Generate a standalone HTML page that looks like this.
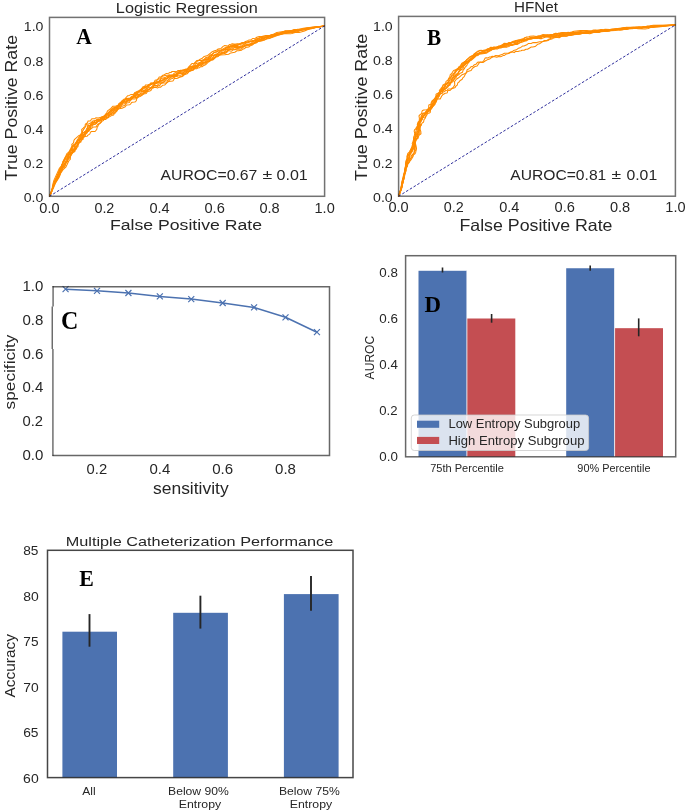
<!DOCTYPE html><html><head><meta charset="utf-8"><style>html,body{margin:0;padding:0;background:#fff;}svg{display:block;will-change:transform;} text{font-kerning:none;}</style></head><body>
<svg width="685" height="812" viewBox="0 0 685 812">
<rect width="685" height="812" fill="#fff"/>
<g>
<g clip-path="none">
<polyline points="49.5,196.3 51.6,191.2 54.3,181.4 57.5,176.3 58.9,171.4 60.0,169.0 61.6,167.1 62.3,164.7 64.4,161.5 64.8,160.0 67.9,156.9 68.8,154.6 70.5,153.3 71.8,149.4 73.2,146.7 74.3,145.6 75.3,143.9 76.3,143.3 77.3,141.6 78.8,140.3 80.3,139.7 81.0,137.9 82.5,137.3 83.3,136.7 84.7,134.6 85.1,132.9 87.9,131.5 89.0,129.7 89.2,127.8 90.3,125.2 91.8,124.6 93.6,122.8 94.8,121.0 97.3,119.4 101.3,119.0 102.4,117.1 104.8,115.3 106.5,113.4 107.6,110.8 110.9,108.4 113.0,106.2 115.5,106.2 118.0,105.3 121.3,104.9 122.1,104.3 123.3,102.4 126.0,103.0 127.2,100.3 127.7,100.0 130.7,100.2 132.1,97.7 137.4,95.8 140.9,94.9 142.6,94.8 143.9,93.1 145.3,92.5 146.4,91.5 147.4,91.2 148.8,89.6 150.2,89.0 151.1,87.7 151.6,87.5 153.6,88.0 154.7,86.9 156.9,86.8 158.5,85.8 159.9,85.3 160.8,83.8 162.1,83.1 163.2,82.0 164.1,81.7 168.8,76.3 170.8,75.8 172.2,76.4 173.3,76.4 175.1,75.6 176.8,75.6 177.2,75.4 178.1,73.6 180.0,73.2 182.9,73.4 183.9,72.0 187.0,70.3 188.4,67.3 191.6,63.8 192.5,63.4 194.2,63.3 196.7,60.6 200.0,60.3 201.8,60.5 205.8,58.6 207.8,58.1 208.6,57.5 210.2,54.9 212.1,54.2 215.0,51.9 217.5,51.5 218.8,50.8 220.9,50.4 222.2,49.7 224.2,49.3 226.3,47.7 227.8,47.3 231.4,45.3 232.9,45.1 234.2,44.4 237.7,43.7 240.0,44.1 242.5,43.7 249.6,44.5 252.2,44.3 254.4,43.1 256.0,41.6 257.5,41.4 259.1,39.9 261.1,39.3 262.8,38.3 266.3,37.8 268.7,36.9 272.3,36.8 285.2,30.7 287.4,31.0 290.8,30.4 292.4,30.5 297.8,29.3 306.3,29.0 324.6,25.9" fill="none" stroke="#ff8c00" stroke-width="1.05" stroke-linejoin="round"/>
<polyline points="49.5,196.3 51.5,191.7 53.6,184.5 56.0,179.5 56.9,176.6 58.2,173.9 58.8,171.9 59.8,170.7 60.3,169.2 62.3,166.9 64.5,163.6 66.5,159.6 68.0,158.1 68.3,156.0 70.9,152.3 70.9,150.1 71.9,148.3 72.2,146.8 71.8,144.3 73.5,142.9 74.0,140.2 74.6,139.4 79.1,135.4 81.3,134.7 82.0,133.3 84.3,132.1 88.5,131.4 88.9,131.2 89.6,129.7 93.7,126.9 96.1,126.9 97.4,124.8 101.0,122.2 101.9,119.8 103.3,119.1 104.3,118.0 105.1,114.9 108.6,114.4 109.7,112.6 111.7,111.1 114.0,110.1 115.6,108.9 118.8,108.2 121.0,107.2 122.6,105.9 124.7,105.5 126.6,103.0 129.3,102.6 130.0,101.0 133.8,96.6 134.1,94.2 134.6,93.1 136.4,93.2 137.4,93.0 138.4,91.7 140.2,90.8 142.9,88.4 145.1,87.2 146.7,86.9 148.4,84.9 150.0,84.7 150.8,83.0 151.3,82.9 154.2,83.9 156.0,82.0 158.1,81.7 159.8,80.6 161.9,80.5 163.3,79.9 164.9,78.6 167.0,78.2 167.7,77.5 168.5,75.6 169.4,75.0 173.3,75.2 175.1,74.3 176.1,74.2 177.2,72.9 179.1,73.5 180.7,72.2 183.0,72.3 185.1,73.4 185.6,73.2 186.5,71.5 189.1,71.1 193.4,68.4 195.0,68.0 196.8,66.2 198.0,64.2 201.2,61.6 202.2,60.2 203.7,60.0 204.1,59.6 205.4,57.8 208.9,56.8 211.4,55.2 214.2,55.1 215.5,54.5 219.8,54.4 223.0,52.9 225.9,52.1 227.4,50.6 228.8,49.9 229.8,48.5 231.7,47.8 233.3,46.3 236.2,45.3 237.8,45.4 239.1,44.5 240.6,44.2 242.3,43.1 243.8,42.9 245.7,42.1 249.3,42.0 251.8,41.6 253.7,40.9 258.2,40.3 259.6,39.8 262.3,38.2 264.3,38.0 265.7,37.3 267.9,37.7 270.1,36.4 273.6,36.0 275.5,35.2 278.9,34.4 281.4,34.3 284.3,33.4 290.4,33.8 291.9,33.6 296.7,32.1 305.7,28.4 309.2,27.7 324.6,25.9" fill="none" stroke="#ff8c00" stroke-width="1.05" stroke-linejoin="round"/>
<polyline points="49.5,196.3 51.4,192.2 53.1,187.0 55.2,181.9 58.9,175.3 59.3,173.3 60.9,171.9 62.9,168.4 64.5,167.1 65.7,163.6 67.5,161.5 67.7,156.3 69.0,154.1 69.3,152.6 70.1,151.3 71.3,148.0 73.2,145.6 77.2,143.2 77.7,140.7 80.1,138.3 80.4,136.0 81.9,134.6 82.6,131.1 84.9,127.5 85.3,124.2 87.5,122.8 88.0,120.9 90.1,120.9 90.6,120.7 91.5,119.1 92.6,118.8 94.6,118.8 95.8,117.8 98.2,117.9 104.9,116.2 105.2,115.9 105.7,114.1 107.3,113.7 108.3,112.5 109.8,111.9 110.8,110.0 113.0,107.9 114.0,107.5 116.5,107.6 117.7,106.7 119.3,106.4 119.9,105.5 120.4,103.5 124.0,101.7 125.8,101.8 126.3,101.6 127.2,100.2 129.6,99.3 131.1,97.0 133.1,96.5 134.4,93.8 135.6,92.9 141.5,90.1 146.6,86.8 148.8,86.7 150.6,84.8 152.1,84.3 153.7,83.0 155.1,80.3 157.1,79.8 158.0,79.3 159.2,77.0 161.3,76.7 162.9,75.2 164.3,74.8 166.5,73.4 168.6,73.3 169.9,72.4 171.0,72.5 172.1,71.5 174.9,71.4 177.8,71.9 179.3,71.5 180.4,70.2 182.9,70.9 184.5,70.9 185.7,69.9 187.5,69.1 189.3,66.9 193.1,65.7 194.6,63.2 196.0,62.5 197.1,61.3 198.5,60.7 199.6,59.5 201.9,58.6 204.2,56.4 207.7,55.5 211.7,52.1 214.5,50.8 216.5,50.3 218.1,49.0 221.1,48.4 223.1,46.4 224.4,45.6 227.9,46.1 229.4,44.6 231.0,44.3 232.4,43.7 235.2,44.2 239.4,43.9 241.7,42.8 243.2,42.5 245.4,42.8 248.7,41.5 254.0,40.2 257.2,38.5 259.6,37.8 260.8,36.8 262.8,36.3 269.5,36.0 273.3,34.7 280.6,33.0 283.1,32.9 285.0,32.2 287.7,32.4 290.1,31.7 293.6,31.7 297.0,30.6 299.0,30.4 304.2,28.4 309.1,27.5 324.6,25.9" fill="none" stroke="#ff8c00" stroke-width="1.05" stroke-linejoin="round"/>
<polyline points="49.5,196.3 54.1,184.7 58.5,177.3 59.0,175.4 60.0,173.6 60.3,171.6 61.3,170.4 62.4,168.1 63.0,164.0 62.9,161.5 64.0,159.7 64.8,157.7 67.7,154.5 71.5,153.2 72.7,152.1 74.4,151.3 74.6,149.7 76.4,149.0 76.8,147.5 78.0,146.5 78.2,143.8 79.0,142.1 78.8,140.3 80.0,138.8 79.7,135.9 81.8,132.4 81.7,129.4 83.0,128.5 83.9,127.2 85.5,126.7 86.3,124.6 86.8,124.3 88.6,124.1 90.5,123.0 93.2,122.4 95.8,122.4 96.8,121.3 98.7,120.5 100.4,120.4 105.7,118.1 108.0,117.7 108.6,116.1 109.7,115.1 110.5,112.9 111.6,111.8 112.3,110.3 115.6,107.1 118.0,105.4 119.1,103.4 120.8,102.3 122.1,100.7 124.3,100.3 126.5,98.3 129.1,98.6 130.9,97.7 133.4,97.9 135.4,97.4 137.2,97.4 140.6,96.3 141.4,95.7 142.1,94.0 143.9,93.2 144.7,91.5 145.1,89.2 146.4,88.5 147.3,87.0 148.5,86.1 149.3,84.5 152.0,84.1 154.2,83.0 155.9,83.0 158.7,81.9 163.3,82.3 164.9,80.9 167.0,80.9 171.7,76.6 172.2,76.5 174.0,76.9 175.0,76.7 178.9,71.8 182.9,71.0 184.2,70.3 185.3,70.1 187.5,70.1 189.7,68.9 191.4,68.9 192.8,67.2 194.5,67.1 195.7,66.2 197.1,65.6 198.5,64.1 202.2,63.6 204.0,62.7 206.5,62.2 209.8,60.0 211.8,59.6 213.5,58.5 214.9,56.8 217.8,54.8 220.1,55.0 221.4,53.0 223.8,52.3 224.8,50.8 226.8,49.0 228.7,48.3 230.3,46.7 232.9,45.2 235.1,45.4 239.1,44.5 241.3,43.3 244.2,42.5 245.5,41.4 246.9,41.1 248.7,40.1 250.8,39.9 252.9,38.4 255.5,38.2 256.8,37.3 259.2,36.5 261.9,36.7 265.7,35.5 269.4,35.6 274.3,34.6 276.8,34.5 278.6,33.4 281.6,32.9 283.4,31.9 285.9,31.6 287.9,30.9 292.9,30.5 294.8,29.7 297.9,30.0 299.8,29.5 306.9,29.1 324.6,25.9" fill="none" stroke="#ff8c00" stroke-width="1.05" stroke-linejoin="round"/>
<polyline points="49.5,196.3 53.3,186.5 59.2,177.1 60.2,174.8 60.7,172.4 61.8,169.5 62.7,167.7 63.7,166.6 64.7,163.7 66.9,161.9 67.4,159.5 68.6,157.9 70.8,155.8 71.3,154.3 72.3,153.1 74.8,151.5 75.7,149.1 75.8,147.5 76.8,145.8 77.9,144.7 78.1,143.8 79.3,141.7 79.9,138.8 81.2,137.4 82.1,135.5 86.2,133.3 87.0,131.9 87.9,131.4 88.6,130.1 90.4,129.0 90.8,127.4 92.1,126.6 92.8,125.1 94.9,123.8 96.5,123.5 96.9,123.2 97.4,121.3 97.8,121.0 100.9,121.1 102.7,119.2 105.5,119.5 106.0,119.3 106.8,117.9 108.4,117.4 108.7,117.0 109.1,115.1 112.1,113.2 112.8,111.8 113.7,111.2 114.9,109.6 116.1,108.8 117.8,106.8 118.7,104.6 120.8,104.2 121.7,101.9 123.7,101.3 125.2,99.8 128.7,98.8 130.6,99.0 131.6,98.8 132.9,97.1 134.7,96.2 135.9,93.3 138.1,93.1 139.4,92.3 141.6,89.1 142.6,86.9 144.7,86.5 145.5,84.9 148.9,84.8 150.9,83.2 155.7,83.7 157.0,81.8 158.8,81.9 160.1,80.1 162.3,80.2 164.3,78.3 166.5,78.3 167.9,77.9 169.0,76.7 171.1,75.2 173.0,74.7 174.1,73.3 175.5,72.8 177.8,70.6 181.5,70.4 185.4,69.2 188.9,69.5 190.3,67.8 193.9,67.2 195.2,65.4 198.3,64.7 200.4,63.4 201.7,61.5 205.8,59.6 207.3,59.3 209.1,57.2 211.1,56.9 212.3,55.8 214.7,55.1 215.8,54.0 217.9,53.7 219.5,51.1 222.7,50.9 224.7,49.0 226.9,47.8 231.8,46.6 235.8,47.4 240.6,47.4 246.8,45.7 248.4,45.7 255.2,42.5 256.8,42.4 258.6,41.4 261.6,41.1 265.3,39.6 266.6,38.5 270.0,38.0 276.9,34.7 283.5,32.2 289.0,31.6 291.6,31.8 295.0,31.1 299.5,30.8 302.9,29.5 308.3,28.8 314.7,27.2 324.6,25.9" fill="none" stroke="#ff8c00" stroke-width="1.05" stroke-linejoin="round"/>
<polyline points="49.5,196.3 52.2,189.8 55.3,179.6 57.7,174.2 60.5,171.1 61.8,168.4 64.1,166.8 65.1,165.6 66.0,162.6 67.0,161.4 68.0,159.2 68.6,156.7 70.2,155.4 71.1,153.6 72.6,152.1 72.4,150.3 72.7,149.9 74.1,148.9 74.3,147.3 75.3,145.0 76.4,143.9 76.8,140.7 78.0,139.2 78.6,137.7 82.1,134.8 82.7,133.2 85.0,132.7 85.8,132.2 88.1,129.6 88.8,128.0 90.4,127.6 90.9,125.9 91.5,125.1 92.4,124.7 94.3,124.6 95.3,124.3 97.2,121.9 99.6,120.9 100.6,118.9 103.0,118.0 104.1,116.0 105.7,115.6 106.8,113.9 108.9,113.2 109.8,111.2 111.1,109.6 113.3,109.1 114.8,107.8 116.6,107.8 120.5,106.4 122.5,104.0 124.8,103.8 126.3,101.5 128.4,101.2 134.1,96.1 136.0,95.4 137.6,93.3 138.6,91.0 143.1,87.7 144.1,86.5 146.0,86.8 147.8,85.8 148.8,84.7 150.4,84.3 153.0,82.8 155.4,82.0 156.2,81.4 157.9,79.0 160.0,78.7 161.0,77.2 162.3,76.3 165.2,75.6 168.9,75.1 171.4,75.8 173.3,75.3 175.0,75.4 175.8,74.7 177.8,74.3 178.8,72.9 179.3,72.7 181.7,73.2 182.8,73.2 184.0,72.1 185.5,71.7 187.2,70.7 189.3,70.4 190.7,68.6 192.6,67.9 193.8,67.0 196.5,66.6 198.3,64.8 200.6,64.9 202.8,63.8 206.9,60.8 208.6,58.6 210.4,57.8 211.5,55.4 213.7,52.8 216.7,52.1 218.1,50.3 219.0,49.9 222.9,50.0 226.9,49.2 228.7,49.7 232.1,48.9 233.9,49.3 235.9,49.0 240.7,49.3 241.6,48.8 242.7,47.5 245.3,45.8 246.7,45.4 249.4,44.0 250.9,43.7 252.9,41.6 254.3,41.2 256.0,39.9 261.1,37.6 262.6,37.6 264.1,37.1 267.8,37.3 270.7,36.6 272.9,35.4 274.5,35.3 275.8,34.6 281.6,32.9 285.3,31.1 290.9,30.7 294.3,29.6 299.3,29.2 303.2,28.3 324.6,25.9" fill="none" stroke="#ff8c00" stroke-width="1.05" stroke-linejoin="round"/>
<polyline points="49.5,196.3 51.5,191.7 52.8,186.8 54.4,183.2 56.7,179.3 57.8,176.5 59.3,172.2 60.0,169.1 61.7,165.9 63.0,162.0 65.6,158.0 65.7,156.4 66.7,153.9 69.5,151.5 69.8,150.0 70.8,148.9 71.3,147.4 73.1,145.0 74.7,144.1 75.7,142.4 81.4,138.2 83.1,135.1 84.9,134.0 86.6,128.6 88.2,127.4 89.1,126.1 90.6,124.8 94.2,122.9 96.9,122.3 98.8,119.8 102.1,118.4 103.3,116.6 105.9,115.9 106.6,114.4 108.2,114.0 108.6,113.6 109.0,111.7 113.2,109.8 115.1,108.2 116.7,107.8 118.0,106.2 118.9,104.0 119.8,103.6 122.2,101.8 123.2,99.6 124.7,99.1 127.2,99.3 128.4,98.3 130.5,98.0 131.8,96.2 132.9,96.1 134.2,95.3 136.0,95.5 137.0,94.2 139.4,94.4 140.7,93.5 143.1,92.7 145.2,92.4 146.0,90.7 147.5,90.5 148.6,89.3 150.4,88.4 154.6,83.7 156.7,83.4 159.0,82.4 160.2,81.4 162.2,81.0 165.5,78.8 167.1,78.7 169.2,77.2 172.3,76.7 174.0,76.9 174.8,76.2 177.2,72.9 180.2,72.3 181.5,70.3 184.1,70.0 185.9,69.1 187.6,69.2 189.1,67.7 191.4,66.6 193.6,66.5 194.4,65.9 195.6,63.8 202.9,61.7 203.9,60.3 204.7,59.8 205.7,59.6 209.3,60.0 210.5,59.1 212.0,58.9 214.3,55.5 216.2,54.9 217.7,53.3 220.9,51.7 222.1,49.4 226.5,46.9 229.1,46.5 230.8,46.7 232.7,46.2 237.6,46.5 241.7,46.1 246.4,42.7 248.4,42.5 250.2,41.6 255.7,40.5 258.4,39.1 260.9,38.9 263.3,38.2 264.7,37.5 266.2,37.3 267.5,36.4 269.5,36.0 271.7,34.7 274.1,34.0 276.8,32.4 283.3,31.4 285.4,31.5 287.4,31.2 291.7,32.6 299.2,32.4 304.6,31.1 308.9,29.1 313.7,27.7 324.6,25.9" fill="none" stroke="#ff8c00" stroke-width="1.05" stroke-linejoin="round"/>
<polyline points="49.5,196.3 50.8,193.6 51.9,190.3 52.6,185.2 54.0,180.1 59.2,168.6 61.4,165.8 61.7,164.3 63.0,163.0 63.5,160.7 64.3,159.2 66.0,157.7 69.4,151.5 74.9,148.2 75.5,146.8 77.5,145.7 77.8,144.8 78.9,143.7 79.5,142.5 81.0,142.0 81.0,140.3 82.5,138.6 82.9,136.2 84.3,134.7 84.3,131.9 86.4,130.5 87.4,129.3 87.4,126.3 87.9,125.3 90.0,125.4 91.0,125.0 91.7,124.2 92.0,122.0 92.7,121.1 99.7,119.8 100.9,118.9 102.4,118.4 103.5,117.5 105.3,117.3 106.8,116.0 109.5,115.4 110.7,114.4 111.5,113.1 113.1,112.8 113.9,111.3 115.4,110.8 117.2,109.1 118.1,106.0 119.7,105.6 121.0,103.9 123.7,101.6 127.8,100.6 129.8,99.0 134.4,98.9 136.9,98.4 138.1,97.4 139.0,95.0 142.5,95.0 143.6,93.9 146.2,93.5 147.4,91.6 149.0,91.3 150.9,90.6 154.7,84.0 156.4,82.8 159.1,81.4 160.1,79.8 161.6,78.1 163.3,78.1 165.7,77.3 167.4,76.3 169.7,76.5 170.6,76.1 172.1,76.0 173.4,75.2 176.0,76.1 176.5,76.0 177.7,75.0 180.5,75.2 182.4,74.5 184.2,74.8 185.7,73.2 186.9,72.3 191.0,70.3 193.1,70.1 194.5,68.5 197.9,67.3 198.8,65.8 199.2,65.6 201.1,66.0 203.0,64.2 206.0,63.4 206.8,61.7 207.3,61.5 209.0,61.7 212.3,59.4 213.9,59.1 214.8,57.5 218.2,56.4 220.0,54.5 225.5,53.3 227.2,52.0 229.3,49.4 232.5,49.1 234.4,47.2 236.7,47.6 239.2,47.0 240.5,46.1 242.7,46.5 245.9,45.0 248.5,44.9 250.5,44.5 251.8,43.6 254.2,42.8 255.8,41.2 258.2,40.7 259.5,39.8 264.3,39.9 266.6,38.9 269.0,38.4 274.8,36.6 278.5,35.1 282.8,33.8 284.8,33.6 287.7,32.6 289.7,32.6 292.1,31.8 298.0,30.8 301.4,29.8 304.4,29.7 311.3,28.3 314.2,27.4 324.6,25.9" fill="none" stroke="#ff8c00" stroke-width="1.05" stroke-linejoin="round"/>
<polyline points="49.5,196.3 54.0,186.8 56.0,181.2 57.1,179.5 58.0,177.1 63.4,169.3 65.8,167.2 68.9,160.7 70.3,159.3 70.5,156.1 72.6,152.7 72.9,151.1 74.3,149.6 75.0,147.7 74.8,144.8 77.0,142.6 77.9,140.3 80.7,139.5 84.1,136.6 87.1,136.2 88.0,135.1 89.7,134.1 90.6,132.1 91.3,131.5 94.4,131.5 95.4,131.2 96.8,129.3 97.1,127.5 97.9,126.3 98.5,124.5 100.5,123.0 101.9,121.3 103.3,120.6 104.8,118.3 106.1,117.6 108.0,117.6 111.6,115.6 113.6,115.0 114.3,113.6 115.6,112.9 116.1,111.0 118.4,109.0 119.8,104.9 121.0,103.9 121.8,102.4 124.5,101.0 125.6,98.0 127.8,95.7 129.4,95.4 131.1,94.4 133.6,94.5 134.8,92.6 137.5,91.2 139.7,91.0 142.0,90.0 145.4,91.1 147.5,89.6 149.6,89.3 150.5,87.8 153.3,86.6 154.3,85.4 154.8,85.2 157.2,85.6 158.6,83.9 159.7,83.7 161.0,83.0 162.5,82.7 164.3,83.1 166.4,82.9 168.5,81.5 172.7,81.0 173.5,80.3 174.3,78.5 176.5,78.5 178.4,77.9 179.7,77.0 182.7,76.4 184.2,74.7 187.1,73.8 189.3,71.5 193.1,70.0 194.6,68.7 196.9,68.7 197.7,68.0 199.3,67.8 200.4,66.8 202.0,66.7 203.3,65.8 205.5,64.8 207.8,62.7 208.9,61.3 211.0,60.0 212.7,60.1 213.8,58.8 215.1,58.1 216.2,55.7 221.9,52.4 222.9,52.3 224.7,52.6 226.3,51.2 228.2,50.6 231.2,51.2 231.6,51.1 233.3,49.8 234.9,49.7 236.6,48.8 240.1,48.1 241.4,47.1 243.2,46.4 244.5,45.4 246.0,45.2 247.8,44.2 249.4,44.4 250.7,43.6 253.3,43.2 255.1,42.4 256.6,42.3 257.9,41.5 262.7,39.9 264.8,38.3 268.6,36.8 271.7,36.7 274.0,35.8 280.0,34.8 281.8,33.9 288.1,32.4 292.4,30.8 299.4,30.0 304.0,30.1 311.4,28.7 313.8,27.9 324.6,25.9" fill="none" stroke="#ff8c00" stroke-width="1.05" stroke-linejoin="round"/>
<polyline points="49.5,196.3 51.9,191.3 54.6,183.3 55.4,181.4 56.3,180.2 58.2,174.5 59.4,171.6 60.4,170.5 61.0,168.5 63.7,165.4 64.6,163.7 66.1,162.1 67.0,160.4 69.0,158.7 69.7,157.4 71.0,153.0 72.7,151.6 74.6,149.1 75.9,148.2 76.2,146.7 77.1,145.5 77.9,143.1 80.4,141.5 81.5,140.1 82.9,139.6 83.3,138.0 85.1,136.2 85.8,134.1 87.2,132.9 88.0,129.3 89.8,127.5 90.6,125.4 91.2,122.7 91.9,121.9 94.4,121.7 95.9,120.3 98.2,119.3 100.4,119.0 101.1,117.5 101.9,116.8 103.6,116.8 107.4,116.0 111.2,114.4 112.9,114.1 114.6,112.3 116.8,111.2 117.8,109.1 122.0,108.2 124.8,107.1 125.5,106.4 126.4,105.0 129.7,104.7 130.5,104.1 131.4,102.7 132.2,102.2 134.5,102.1 135.5,101.8 136.4,100.5 136.9,97.3 139.3,94.4 140.5,93.6 141.6,91.3 143.9,91.4 147.7,88.0 148.7,87.6 150.5,87.9 155.3,87.2 157.8,87.9 159.1,87.1 160.7,87.1 162.6,85.3 164.6,85.1 170.7,78.9 172.2,78.6 176.1,76.2 178.7,77.2 181.7,76.5 182.7,75.2 183.6,73.4 186.1,72.9 187.3,72.0 188.9,71.7 190.1,70.7 193.0,69.8 193.7,69.0 194.4,67.1 197.1,67.0 198.2,65.7 200.0,64.9 202.2,62.5 204.4,62.4 206.1,60.3 208.5,59.4 209.7,58.5 212.7,57.8 214.5,58.0 216.0,56.4 217.5,56.2 219.7,54.9 224.6,54.8 228.6,54.3 230.8,52.9 234.8,52.3 236.9,50.8 238.5,50.8 241.4,50.3 242.6,49.2 244.1,48.8 245.7,47.5 248.7,47.0 250.4,45.7 252.3,45.0 254.4,43.4 256.3,42.9 258.2,40.7 259.1,40.1 261.1,39.8 262.9,39.0 265.9,36.8 268.0,36.9 269.7,35.4 271.1,34.9 278.0,33.3 280.0,33.2 282.4,32.4 288.1,32.4 292.4,30.9 294.5,31.2 299.0,30.4 300.4,29.9 304.4,29.6 306.3,28.9 324.6,25.9" fill="none" stroke="#ff8c00" stroke-width="1.05" stroke-linejoin="round"/>
</g>
<line x1="49.50" y1="196.30" x2="324.60" y2="25.92" stroke="#2e2e9c" stroke-width="1.0" stroke-dasharray="2.6 1.8"/>
<rect x="49.50" y="17.40" width="275.10" height="178.90" fill="none" stroke="#262626" stroke-width="1.5" stroke-opacity="0.65"/>
<text x="23.79" y="201.80" font-size="13.50" textLength="19.62" lengthAdjust="spacingAndGlyphs" fill="#262626" font-family="Liberation Sans" font-weight="normal">0.0</text>
<text x="39.38" y="212.60" font-size="13.93" textLength="20.24" lengthAdjust="spacingAndGlyphs" fill="#262626" font-family="Liberation Sans" font-weight="normal">0.0</text>
<text x="23.80" y="167.72" font-size="13.50" textLength="19.32" lengthAdjust="spacingAndGlyphs" fill="#262626" font-family="Liberation Sans" font-weight="normal">0.2</text>
<text x="94.41" y="212.60" font-size="13.93" textLength="19.93" lengthAdjust="spacingAndGlyphs" fill="#262626" font-family="Liberation Sans" font-weight="normal">0.2</text>
<text x="23.79" y="133.65" font-size="13.50" textLength="19.60" lengthAdjust="spacingAndGlyphs" fill="#262626" font-family="Liberation Sans" font-weight="normal">0.4</text>
<text x="149.42" y="212.60" font-size="13.93" textLength="20.22" lengthAdjust="spacingAndGlyphs" fill="#262626" font-family="Liberation Sans" font-weight="normal">0.4</text>
<text x="23.79" y="99.57" font-size="13.50" textLength="19.73" lengthAdjust="spacingAndGlyphs" fill="#262626" font-family="Liberation Sans" font-weight="normal">0.6</text>
<text x="204.44" y="212.60" font-size="13.93" textLength="20.36" lengthAdjust="spacingAndGlyphs" fill="#262626" font-family="Liberation Sans" font-weight="normal">0.6</text>
<text x="23.79" y="65.50" font-size="13.50" textLength="19.65" lengthAdjust="spacingAndGlyphs" fill="#262626" font-family="Liberation Sans" font-weight="normal">0.8</text>
<text x="259.46" y="212.60" font-size="13.93" textLength="20.27" lengthAdjust="spacingAndGlyphs" fill="#262626" font-family="Liberation Sans" font-weight="normal">0.8</text>
<text x="23.83" y="31.42" font-size="13.50" textLength="19.58" lengthAdjust="spacingAndGlyphs" fill="#262626" font-family="Liberation Sans" font-weight="normal">1.0</text>
<text x="314.52" y="212.60" font-size="13.93" textLength="20.20" lengthAdjust="spacingAndGlyphs" fill="#262626" font-family="Liberation Sans" font-weight="normal">1.0</text>
<text x="115.87" y="12.60" font-size="14.34" textLength="141.90" lengthAdjust="spacingAndGlyphs" fill="#262626" font-family="Liberation Sans" font-weight="normal">Logistic Regression</text>
<text x="76.28" y="44.40" font-size="22.88" textLength="15.57" lengthAdjust="spacingAndGlyphs" fill="#000" font-family="Liberation Serif" font-weight="bold">A</text>
<text x="160.47" y="179.60" font-size="14.33" textLength="96.93" lengthAdjust="spacingAndGlyphs" fill="#262626" font-family="Liberation Sans" font-weight="normal">AUROC=0.67</text>
<text x="262.53" y="179.40" font-size="13.45" textLength="9.71" lengthAdjust="spacingAndGlyphs" fill="#262626" font-family="Liberation Sans" font-weight="normal">±</text>
<text x="276.57" y="179.60" font-size="14.33" textLength="31.22" lengthAdjust="spacingAndGlyphs" fill="#262626" font-family="Liberation Sans" font-weight="normal">0.01</text>
<text transform="translate(16.60,180.79) rotate(-90)" x="0" y="0" font-size="15.59" textLength="145.78" lengthAdjust="spacingAndGlyphs" fill="#262626" font-family="Liberation Sans" font-weight="normal">True Positive Rate</text>
<text x="109.95" y="230.20" font-size="15.17" textLength="152.02" lengthAdjust="spacingAndGlyphs" fill="#262626" font-family="Liberation Sans" font-weight="normal">False Positive Rate</text>
<g clip-path="none">
<polyline points="398.6,196.2 400.9,189.6 402.6,178.7 404.0,173.4 405.0,171.5 405.1,170.0 406.1,166.1 407.8,163.5 408.0,160.9 409.5,158.3 409.9,156.3 409.7,154.1 410.8,152.9 411.3,150.4 412.6,147.8 413.9,146.0 413.9,144.5 414.7,141.1 414.0,137.6 415.0,136.3 415.7,134.5 415.8,131.4 416.5,129.7 416.6,128.2 417.4,126.3 417.4,124.2 418.8,122.9 419.7,121.1 421.7,120.2 422.2,118.8 424.4,115.4 424.9,113.9 426.6,112.7 429.1,111.4 429.9,110.7 431.2,106.7 433.4,105.1 433.6,102.9 434.7,100.7 436.2,99.3 435.9,96.7 439.0,94.6 440.7,91.5 442.8,91.3 443.8,89.7 445.7,88.7 448.0,86.9 448.7,85.6 450.2,84.9 450.5,82.4 451.5,81.3 452.0,79.7 453.9,76.6 455.5,76.0 456.0,74.5 457.7,73.3 458.6,72.1 460.5,67.8 462.3,67.4 462.8,64.5 463.5,63.0 465.5,61.3 466.8,59.5 468.6,58.6 470.0,56.8 473.8,55.3 476.4,53.7 478.4,53.3 479.7,52.4 482.7,53.0 484.6,52.2 486.7,52.0 490.6,49.9 494.5,48.8 496.1,47.3 497.6,47.0 499.0,46.3 501.7,46.8 503.2,44.6 504.9,45.0 505.9,45.0 508.1,43.9 509.7,43.9 511.5,43.0 516.5,42.2 519.8,41.1 521.2,40.3 523.7,40.0 528.0,38.7 531.1,38.8 533.0,38.0 534.6,38.2 537.6,37.9 539.7,38.6 541.7,38.6 546.4,36.8 550.5,37.4 559.2,34.6 568.2,34.3 570.2,33.8 573.7,33.7 578.2,32.7 581.7,32.9 588.1,31.3 590.6,31.4 595.5,30.2 599.1,30.4 602.0,30.2 604.1,30.6 607.6,30.8 610.1,30.2 612.6,30.4 617.0,29.2 624.9,27.8 633.4,27.0 636.4,26.9 638.0,27.3 639.9,27.2 643.0,27.6 644.5,27.3 646.5,27.4 656.4,26.1 659.5,26.4 662.4,25.8 675.4,25.0" fill="none" stroke="#ff8c00" stroke-width="1.05" stroke-linejoin="round"/>
<polyline points="398.6,196.2 401.2,189.1 402.9,182.9 404.1,177.0 404.1,175.4 404.7,173.5 405.0,170.0 405.5,168.6 405.4,166.4 405.9,164.4 405.9,161.3 407.1,158.1 407.0,156.5 407.8,153.3 409.5,151.8 410.0,150.5 411.5,149.0 413.4,143.8 413.1,142.2 413.4,140.1 415.7,137.7 416.8,136.0 417.1,133.9 418.5,132.9 419.1,132.0 420.0,126.5 421.3,125.3 421.8,123.4 423.6,122.0 424.0,119.6 425.3,118.2 425.8,116.5 426.9,115.0 427.3,114.0 427.6,113.6 429.4,113.1 430.3,112.3 430.5,109.8 432.5,107.4 433.1,104.9 434.4,102.8 434.6,101.2 436.3,99.9 437.1,96.9 438.4,95.4 440.0,94.7 440.3,92.5 441.9,91.2 442.5,89.2 443.4,88.7 446.4,88.1 447.1,86.1 448.7,85.6 449.5,84.9 449.8,82.5 452.8,81.8 453.2,81.4 454.1,78.8 455.9,77.7 456.9,75.8 458.7,74.8 459.7,73.6 462.5,72.3 463.1,70.2 464.4,68.7 465.0,67.3 466.9,65.4 467.4,63.9 468.4,62.9 469.2,60.4 471.0,59.5 472.2,57.6 473.3,56.7 479.6,53.3 481.8,53.4 484.9,51.7 486.1,50.7 489.5,49.8 492.2,48.3 493.4,47.0 495.6,47.4 496.6,47.1 498.8,45.9 500.4,45.7 502.2,44.8 504.0,43.3 507.1,43.6 509.3,42.5 513.3,42.2 515.3,41.7 517.4,41.8 519.7,40.7 522.8,40.6 527.1,39.1 531.6,38.9 533.6,38.3 537.1,38.4 541.0,37.5 542.4,36.8 545.3,36.0 547.3,36.1 550.7,34.9 552.7,34.7 554.2,34.0 556.2,34.1 558.6,33.3 560.7,33.7 562.6,33.4 565.2,33.8 569.7,33.6 572.2,32.9 575.2,33.5 577.2,33.0 579.7,33.1 581.7,32.6 583.7,32.8 587.7,32.3 589.2,32.5 592.2,32.0 595.6,30.9 597.6,31.1 599.6,30.6 608.6,30.4 613.5,29.1 616.5,28.7 618.5,29.0 624.4,27.8 635.0,28.4 636.5,28.0 639.5,28.0 641.5,28.4 643.5,27.7 645.5,27.8 649.0,27.0 652.4,26.6 654.9,25.8 660.4,25.8 662.9,25.4 669.4,25.4 675.4,25.0" fill="none" stroke="#ff8c00" stroke-width="1.05" stroke-linejoin="round"/>
<polyline points="398.6,196.2 401.3,189.7 402.1,186.8 402.7,182.3 403.6,179.9 403.8,175.4 404.7,172.5 404.6,169.9 407.5,166.1 407.7,163.5 409.0,161.8 409.8,158.9 412.3,157.1 412.3,154.6 414.2,153.3 414.4,151.6 415.9,149.8 415.3,141.2 415.7,140.3 416.9,139.2 417.7,136.3 418.4,130.7 417.9,128.0 418.8,125.7 418.2,123.3 420.8,118.7 420.9,117.0 422.1,115.8 422.5,114.0 423.2,113.2 425.2,112.8 426.8,110.9 429.0,110.1 429.7,108.8 432.7,106.4 432.9,104.2 435.1,102.0 435.9,98.5 438.9,94.0 439.1,92.3 440.7,91.0 441.7,88.6 444.8,86.7 446.1,84.4 451.6,82.8 452.3,80.6 454.1,79.5 455.9,75.6 458.1,73.6 461.0,68.2 463.1,65.5 466.6,62.7 468.8,59.9 471.2,59.0 473.2,57.5 474.7,57.1 476.0,55.3 478.4,54.4 480.3,52.5 482.6,51.4 484.6,51.0 487.0,49.1 489.0,48.4 490.8,47.3 493.5,47.5 495.0,47.1 496.7,47.5 499.3,47.6 500.3,47.4 501.6,46.6 503.7,46.7 506.7,46.3 509.9,44.8 513.5,44.3 514.8,43.5 517.4,43.5 519.7,42.7 522.0,41.3 526.0,41.0 529.6,38.9 531.6,38.6 536.3,36.6 538.7,35.8 540.7,35.5 543.1,34.5 547.2,34.9 549.8,35.9 551.8,35.7 555.4,35.9 563.3,34.9 565.3,35.0 567.2,34.1 571.7,33.8 574.6,32.5 576.6,32.0 579.1,31.9 583.5,30.8 584.5,30.8 586.6,31.5 589.6,31.5 597.6,30.8 604.1,30.6 607.1,30.9 610.6,30.6 617.5,29.4 620.1,29.9 628.0,28.3 630.0,28.6 634.5,27.4 638.9,26.8 641.4,26.9 643.4,26.4 644.9,26.7 648.4,26.3 660.4,26.2 675.4,25.0" fill="none" stroke="#ff8c00" stroke-width="1.05" stroke-linejoin="round"/>
<polyline points="398.6,196.2 400.2,191.5 401.5,186.1 404.3,177.5 404.9,174.6 405.2,173.1 405.0,171.0 405.5,167.0 405.5,163.2 407.2,158.7 407.3,156.0 410.4,152.2 412.0,150.7 412.6,148.8 414.5,147.3 415.1,146.4 413.9,143.4 414.5,139.9 415.2,138.1 415.1,136.3 416.7,133.8 416.8,132.3 418.4,130.7 418.2,128.6 418.6,126.7 419.7,124.8 419.8,122.7 420.4,121.3 420.6,119.8 422.3,117.7 423.3,115.9 427.5,111.5 428.5,109.8 431.8,107.6 431.0,105.0 431.6,104.1 432.4,101.7 435.4,98.2 436.0,96.2 436.0,94.4 436.3,94.0 439.5,92.5 439.4,90.0 441.3,89.5 441.7,89.2 442.3,86.5 444.3,85.5 445.7,82.7 446.2,81.1 448.1,80.2 449.3,78.5 450.5,77.7 450.9,76.7 452.7,75.6 453.6,73.8 455.3,72.6 458.4,68.6 458.7,66.9 460.6,65.8 461.6,64.0 463.3,63.5 464.4,61.6 467.5,61.5 468.8,60.8 470.9,60.5 473.3,58.7 476.2,55.6 479.0,53.4 481.3,52.3 483.4,52.0 484.5,50.8 488.6,48.8 491.2,48.6 493.6,47.9 496.9,48.2 498.8,47.7 501.3,47.5 506.5,45.4 509.6,43.5 511.1,43.3 513.3,41.9 516.6,40.8 521.0,39.8 526.7,39.6 529.9,38.1 532.6,38.5 535.1,38.2 536.9,37.3 539.5,37.4 544.2,35.5 547.8,35.9 559.1,33.4 568.1,32.8 571.6,32.1 574.0,31.2 580.5,30.4 587.0,30.5 588.6,30.8 592.1,30.6 594.0,29.9 597.0,30.2 601.0,29.6 603.5,29.7 605.0,29.3 610.0,29.6 612.0,29.1 618.0,29.2 620.5,28.7 625.0,29.0 629.0,28.4 632.5,28.6 636.5,27.8 639.0,28.0 644.4,27.0 647.0,27.1 650.4,25.8 653.3,25.3 675.4,25.0" fill="none" stroke="#ff8c00" stroke-width="1.05" stroke-linejoin="round"/>
<polyline points="398.6,196.2 400.8,189.0 401.9,181.7 404.0,176.4 404.1,174.9 405.3,172.1 406.1,168.7 406.3,167.7 405.9,165.5 406.9,161.7 406.7,160.1 407.5,158.8 408.0,156.2 408.9,153.8 412.1,150.8 414.5,146.2 414.0,142.4 415.0,140.6 415.1,138.0 415.9,136.7 416.2,135.2 417.5,134.1 418.1,131.7 419.2,130.4 418.1,128.1 418.2,126.5 417.4,124.7 418.0,122.1 418.9,121.3 419.3,120.4 419.4,118.1 419.0,116.1 419.2,115.5 421.7,113.4 422.0,111.3 422.7,110.4 423.7,110.0 426.8,109.8 428.6,108.7 429.6,107.6 431.0,106.7 432.3,103.9 435.2,101.6 435.8,98.5 438.6,94.9 439.0,92.8 440.4,92.0 441.2,90.7 442.8,90.1 444.2,88.7 444.5,87.0 446.3,83.3 448.1,82.2 448.1,79.5 449.9,76.5 450.2,74.8 451.9,73.0 453.6,70.5 456.5,69.6 458.0,68.3 461.3,66.5 462.0,65.1 465.8,62.5 466.8,61.4 468.6,60.4 470.1,59.0 471.3,57.1 472.1,56.5 473.6,56.1 474.8,54.0 476.8,52.3 478.3,51.7 479.9,50.4 482.3,50.9 484.2,50.1 486.7,50.8 488.3,49.4 489.7,49.0 495.0,48.7 496.2,47.8 498.2,47.5 500.4,45.9 503.0,45.9 505.6,44.0 507.1,43.8 508.4,43.0 511.3,42.4 512.6,41.5 516.0,40.5 518.2,40.9 523.2,40.3 524.8,40.5 528.0,38.6 530.6,38.7 534.4,37.6 536.6,38.1 542.8,36.2 544.7,35.2 553.2,34.3 555.6,33.3 557.6,33.5 563.0,32.4 566.1,32.9 568.1,32.2 570.1,32.8 572.1,32.4 575.6,32.7 578.1,32.0 580.1,32.4 583.6,31.9 585.1,32.2 590.2,32.2 592.1,31.9 594.1,31.2 597.1,31.2 601.5,30.1 609.5,30.0 612.0,29.4 620.0,29.3 627.5,28.4 632.0,28.8 635.5,28.2 638.1,28.8 645.1,29.0 648.1,28.5 650.5,27.5 653.0,27.6 662.4,26.2 675.4,25.0" fill="none" stroke="#ff8c00" stroke-width="1.05" stroke-linejoin="round"/>
<polyline points="398.6,196.2 400.5,190.5 402.9,179.3 403.7,176.9 403.7,174.8 405.0,169.5 406.3,166.2 407.8,163.5 411.4,159.3 413.1,156.4 413.6,154.7 415.0,153.7 415.6,152.7 416.5,148.4 415.1,142.2 416.0,141.0 416.4,138.5 417.8,136.9 418.0,134.9 419.7,133.9 419.9,131.2 419.4,129.4 419.0,123.5 419.7,121.6 422.2,118.8 422.6,116.7 425.0,114.6 425.8,112.7 427.0,111.7 429.8,110.6 430.9,108.9 431.4,106.9 433.2,106.0 435.1,103.7 434.9,100.3 436.5,95.4 438.3,94.1 439.1,92.9 440.6,92.1 441.0,90.6 442.3,88.4 444.2,88.1 445.1,87.6 445.5,85.3 448.9,81.6 449.8,79.7 450.8,78.6 452.0,74.4 454.5,72.6 455.3,71.3 456.8,69.9 459.2,69.3 461.6,66.7 465.2,64.8 466.3,62.4 469.1,62.1 470.6,59.9 473.7,57.4 475.1,55.7 476.9,55.8 477.9,55.6 479.6,53.3 482.9,53.3 484.7,52.5 485.8,52.4 490.5,50.8 493.0,49.0 494.9,48.6 496.6,47.2 498.6,47.1 500.0,46.3 503.0,46.0 504.9,45.2 507.9,44.7 510.0,44.9 514.4,43.9 519.0,41.8 520.2,40.7 523.0,39.6 526.5,36.9 528.6,36.9 530.0,36.2 533.5,35.9 536.3,36.6 540.9,36.9 543.3,36.2 548.9,36.6 551.9,36.5 553.4,36.1 555.4,36.3 557.9,35.7 559.3,35.1 560.8,35.1 566.7,34.1 570.2,34.2 572.7,33.1 576.7,32.8 579.6,31.8 582.6,32.1 588.1,31.6 591.2,32.8 593.2,32.2 599.2,32.4 601.2,31.8 609.1,30.9 613.5,29.5 618.5,28.8 620.5,28.9 627.9,27.5 631.5,28.2 634.4,27.4 639.0,27.8 642.0,27.5 644.0,27.7 647.5,27.0 651.4,26.6 654.0,26.6 662.4,25.4 675.4,25.0" fill="none" stroke="#ff8c00" stroke-width="1.05" stroke-linejoin="round"/>
<polyline points="398.6,196.2 400.5,191.0 404.5,175.5 404.7,173.5 404.6,172.0 405.1,170.5 405.2,167.4 406.0,165.0 407.9,162.0 407.9,159.9 409.4,155.6 412.1,151.8 413.8,148.1 415.1,146.4 414.7,143.7 415.3,142.3 415.4,140.8 416.0,138.9 417.5,137.9 417.6,137.4 417.6,134.7 418.5,131.3 418.1,129.1 419.0,127.8 419.4,125.8 419.2,123.1 421.2,121.6 421.4,120.1 422.3,118.8 423.3,115.3 424.5,114.2 425.6,111.7 428.3,110.8 428.8,108.9 429.9,107.7 431.3,105.1 432.4,104.0 433.2,102.2 434.7,100.7 435.8,99.0 436.5,97.1 438.9,96.3 439.5,93.1 440.9,91.7 440.8,88.5 442.4,87.2 443.0,85.0 444.3,84.2 447.3,83.6 448.8,82.2 449.2,80.5 451.4,79.8 452.3,78.6 454.1,77.5 454.8,75.4 458.0,74.1 459.0,71.1 460.9,70.2 461.5,69.4 463.0,68.7 463.7,66.1 464.8,65.1 465.2,64.2 467.0,63.3 468.2,61.7 470.5,59.8 472.3,57.8 473.5,57.0 474.9,55.2 477.4,54.6 486.2,53.3 487.5,52.6 490.6,49.9 494.0,48.9 497.1,49.1 499.8,47.7 500.9,47.9 503.3,47.1 506.9,47.1 508.8,46.5 510.6,45.3 512.2,45.5 515.1,44.4 517.2,44.5 519.8,42.8 522.7,42.1 526.2,39.9 529.1,39.0 533.1,38.4 535.9,37.1 538.4,37.2 540.3,36.3 544.4,36.8 546.9,36.4 548.9,36.7 550.4,36.5 555.4,36.8 558.4,36.5 562.9,35.5 564.4,35.5 566.9,36.0 571.3,34.7 573.3,34.7 584.2,32.5 586.7,32.8 588.2,32.4 593.7,32.2 596.6,31.5 600.1,31.5 605.1,30.9 607.2,31.2 611.1,30.6 616.0,28.8 626.9,27.2 634.0,27.7 637.0,27.4 641.0,27.5 647.4,26.9 654.5,26.7 656.4,26.3 660.9,26.0 663.4,25.4 675.4,25.0" fill="none" stroke="#ff8c00" stroke-width="1.05" stroke-linejoin="round"/>
<polyline points="398.6,196.2 401.8,187.2 403.2,181.4 404.2,175.5 405.2,171.6 404.9,168.4 405.5,167.0 405.9,164.4 406.9,162.7 406.7,160.6 408.0,158.9 407.9,156.2 409.3,153.9 409.6,152.4 410.8,151.3 410.7,149.2 411.9,147.0 412.3,145.1 414.2,143.0 414.1,141.4 414.9,140.6 415.5,139.2 417.9,138.5 419.0,135.2 421.0,133.8 420.8,131.4 420.2,129.6 420.1,128.1 420.6,125.1 419.9,122.8 420.3,120.8 421.4,118.4 421.2,116.6 421.5,115.5 422.5,114.0 423.5,113.3 426.8,112.9 428.8,110.0 430.3,109.2 431.6,107.5 434.8,104.7 435.2,103.2 436.1,102.1 437.6,98.4 439.3,96.0 439.5,94.3 442.1,93.2 442.7,90.6 444.2,90.0 445.7,88.7 447.8,85.4 449.1,84.5 449.6,83.0 451.7,81.5 452.0,78.3 453.0,77.2 453.6,75.1 455.1,73.1 455.2,70.5 456.5,69.7 457.4,68.4 459.1,67.9 460.3,66.9 460.8,66.1 461.2,64.3 462.1,63.1 464.7,61.9 468.0,58.5 471.3,56.2 472.8,55.6 474.1,53.9 477.5,51.3 480.9,50.3 482.7,50.6 487.5,50.2 489.9,49.4 493.0,47.6 494.8,48.3 495.9,48.3 497.6,47.2 499.6,46.9 502.8,45.0 511.4,42.5 512.7,41.8 515.2,41.4 517.0,40.3 520.4,39.6 523.7,38.4 525.1,37.5 528.0,38.6 530.3,37.5 533.4,37.5 537.8,36.5 539.3,36.6 542.7,35.6 546.3,35.6 547.7,35.1 549.8,35.5 552.3,35.2 554.8,35.3 556.3,35.0 558.2,33.8 562.6,32.6 568.6,33.0 571.1,32.5 575.6,32.3 581.2,33.2 586.7,33.3 589.8,33.8 591.7,33.0 595.7,32.1 603.1,31.2 605.2,31.3 607.1,30.6 609.6,30.5 612.5,29.7 618.5,29.4 620.5,28.8 626.5,28.1 632.5,28.4 646.5,27.3 651.9,26.1 656.4,26.2 675.4,25.0" fill="none" stroke="#ff8c00" stroke-width="1.05" stroke-linejoin="round"/>
<polyline points="398.6,196.2 402.1,186.8 402.4,184.3 403.6,179.9 404.0,175.9 405.4,170.6 405.6,166.5 406.5,165.2 406.6,163.6 408.0,159.4 409.6,157.3 409.7,154.1 411.1,152.0 411.0,149.8 412.4,148.8 413.3,146.4 413.4,145.9 412.2,143.5 413.4,141.2 413.7,136.9 414.5,135.1 414.7,133.0 414.2,131.4 414.4,130.0 415.6,129.0 416.2,127.6 417.9,126.0 419.2,123.1 419.1,121.4 421.7,119.7 422.9,117.5 425.6,116.9 426.1,114.3 427.1,113.2 428.2,110.8 431.3,108.2 431.3,105.7 433.4,104.2 434.6,102.5 436.0,101.7 436.8,99.0 437.9,98.7 440.2,99.0 441.7,96.0 442.7,94.8 445.2,93.3 446.9,93.0 447.3,92.7 447.6,90.7 450.4,90.3 451.9,88.3 453.2,87.5 454.8,84.9 454.5,81.6 456.3,79.2 458.6,77.8 462.1,74.7 465.3,73.5 466.7,72.1 468.5,71.2 471.1,70.5 472.5,68.2 475.0,66.5 477.1,66.0 479.6,62.4 480.5,62.0 482.7,61.9 484.0,60.2 485.2,58.0 486.2,57.7 488.0,58.0 489.3,57.1 490.9,57.0 492.2,56.3 493.9,56.5 495.7,55.5 498.4,55.7 502.6,54.3 504.4,53.3 508.5,53.0 511.3,51.7 514.2,52.6 515.4,51.5 518.0,51.5 519.5,51.0 521.1,50.8 522.0,50.3 524.2,50.3 525.9,49.3 527.5,49.3 531.3,47.0 532.8,47.1 535.1,46.6 537.6,44.3 539.5,43.7 544.4,40.4 546.5,40.6 548.7,39.2 554.5,37.0 557.6,37.3 561.5,36.3 564.5,35.9 566.0,36.1 568.9,35.1 576.3,34.4 577.8,34.0 579.9,34.2 582.3,33.6 586.8,33.5 588.3,33.0 591.8,32.8 593.2,32.4 596.2,32.3 598.6,31.2 602.1,31.0 604.1,30.4 605.6,30.5 608.1,30.1 610.1,30.1 612.0,29.6 619.6,29.7 621.6,29.3 624.6,29.3 627.6,29.0 629.5,28.3 634.5,28.0 636.5,27.5 644.4,26.8 647.9,26.1 649.4,26.4 651.4,26.0 656.9,26.1 675.4,25.0" fill="none" stroke="#ff8c00" stroke-width="1.05" stroke-linejoin="round"/>
<polyline points="398.6,196.2 401.3,187.6 403.2,178.3 404.2,175.0 406.2,170.8 406.3,168.3 407.1,166.5 407.2,164.9 409.3,162.4 410.4,159.1 411.2,157.8 411.3,156.3 411.6,155.4 413.3,154.0 413.9,153.2 414.6,149.4 414.5,147.3 413.9,145.5 413.9,143.0 415.2,139.2 415.7,132.9 415.8,132.4 417.8,131.1 417.7,129.0 417.2,126.8 418.7,125.7 420.2,119.1 422.1,117.6 423.1,115.8 424.9,114.5 425.8,113.4 426.8,110.2 428.6,108.7 428.8,105.1 430.9,104.2 431.1,102.9 432.1,100.8 434.1,99.2 434.9,97.9 436.9,96.6 439.2,94.0 442.3,93.1 443.1,92.0 444.6,91.6 445.6,90.5 447.2,90.2 448.1,89.0 451.1,88.9 455.3,87.4 455.7,86.3 457.3,85.0 457.8,82.9 459.1,82.0 459.9,80.7 462.2,79.3 462.8,77.9 464.2,76.6 465.3,74.2 466.6,72.7 467.0,70.0 469.6,68.4 470.9,66.8 473.0,66.2 474.4,64.7 475.9,64.3 477.7,62.2 478.7,62.0 481.9,62.6 483.0,62.5 485.1,61.0 488.1,59.4 489.6,59.0 491.2,57.8 493.9,56.5 496.8,57.2 498.6,56.5 500.3,56.8 501.2,56.6 503.0,55.6 504.4,55.4 506.6,53.9 508.7,53.6 510.0,52.7 511.9,51.9 513.5,50.6 516.4,49.8 518.5,48.2 520.8,47.4 522.5,46.1 524.0,45.9 526.8,44.8 528.5,43.4 531.2,43.4 533.1,42.6 536.7,42.6 539.6,41.7 543.2,41.6 546.1,41.1 548.1,40.6 549.8,39.4 551.8,39.1 553.6,38.1 555.6,37.6 557.6,37.5 559.2,37.8 561.5,36.3 565.5,36.3 569.4,35.3 571.0,35.6 575.3,34.1 579.3,34.1 584.2,33.0 586.3,33.1 588.2,32.6 590.7,32.6 592.2,32.1 596.2,32.3 603.1,30.9 606.7,31.1 615.2,30.6 618.1,30.0 622.1,29.9 624.6,29.2 626.6,29.4 629.1,28.8 640.0,27.6 642.0,27.7 646.0,27.1 647.5,27.3 651.5,26.9 660.5,26.8 675.4,25.0" fill="none" stroke="#ff8c00" stroke-width="1.05" stroke-linejoin="round"/>
</g>
<line x1="398.60" y1="196.20" x2="675.40" y2="24.96" stroke="#2e2e9c" stroke-width="1.0" stroke-dasharray="2.6 1.8"/>
<rect x="398.60" y="16.40" width="276.80" height="179.80" fill="none" stroke="#262626" stroke-width="1.5" stroke-opacity="0.65"/>
<text x="373.09" y="201.80" font-size="13.50" textLength="19.62" lengthAdjust="spacingAndGlyphs" fill="#262626" font-family="Liberation Sans" font-weight="normal">0.0</text>
<text x="388.48" y="212.20" font-size="13.93" textLength="20.24" lengthAdjust="spacingAndGlyphs" fill="#262626" font-family="Liberation Sans" font-weight="normal">0.0</text>
<text x="373.10" y="167.55" font-size="13.50" textLength="19.32" lengthAdjust="spacingAndGlyphs" fill="#262626" font-family="Liberation Sans" font-weight="normal">0.2</text>
<text x="443.85" y="212.20" font-size="13.93" textLength="19.93" lengthAdjust="spacingAndGlyphs" fill="#262626" font-family="Liberation Sans" font-weight="normal">0.2</text>
<text x="373.09" y="133.30" font-size="13.50" textLength="19.60" lengthAdjust="spacingAndGlyphs" fill="#262626" font-family="Liberation Sans" font-weight="normal">0.4</text>
<text x="499.20" y="212.20" font-size="13.93" textLength="20.22" lengthAdjust="spacingAndGlyphs" fill="#262626" font-family="Liberation Sans" font-weight="normal">0.4</text>
<text x="373.09" y="99.06" font-size="13.50" textLength="19.73" lengthAdjust="spacingAndGlyphs" fill="#262626" font-family="Liberation Sans" font-weight="normal">0.6</text>
<text x="554.56" y="212.20" font-size="13.93" textLength="20.36" lengthAdjust="spacingAndGlyphs" fill="#262626" font-family="Liberation Sans" font-weight="normal">0.6</text>
<text x="373.09" y="64.81" font-size="13.50" textLength="19.65" lengthAdjust="spacingAndGlyphs" fill="#262626" font-family="Liberation Sans" font-weight="normal">0.8</text>
<text x="609.92" y="212.20" font-size="13.93" textLength="20.27" lengthAdjust="spacingAndGlyphs" fill="#262626" font-family="Liberation Sans" font-weight="normal">0.8</text>
<text x="373.13" y="30.56" font-size="13.50" textLength="19.58" lengthAdjust="spacingAndGlyphs" fill="#262626" font-family="Liberation Sans" font-weight="normal">1.0</text>
<text x="665.32" y="212.20" font-size="13.93" textLength="20.20" lengthAdjust="spacingAndGlyphs" fill="#262626" font-family="Liberation Sans" font-weight="normal">1.0</text>
<text x="514.06" y="12.00" font-size="14.83" textLength="43.85" lengthAdjust="spacingAndGlyphs" fill="#262626" font-family="Liberation Sans" font-weight="normal">HFNet</text>
<text x="427.04" y="44.50" font-size="23.05" textLength="14.15" lengthAdjust="spacingAndGlyphs" fill="#000" font-family="Liberation Serif" font-weight="bold">B</text>
<text x="510.27" y="179.60" font-size="14.33" textLength="96.01" lengthAdjust="spacingAndGlyphs" fill="#262626" font-family="Liberation Sans" font-weight="normal">AUROC=0.81</text>
<text x="611.64" y="179.20" font-size="13.11" textLength="9.60" lengthAdjust="spacingAndGlyphs" fill="#262626" font-family="Liberation Sans" font-weight="normal">±</text>
<text x="626.48" y="179.60" font-size="14.33" textLength="30.69" lengthAdjust="spacingAndGlyphs" fill="#262626" font-family="Liberation Sans" font-weight="normal">0.01</text>
<text transform="translate(366.60,181.00) rotate(-90)" x="0" y="0" font-size="16.69" textLength="147.09" lengthAdjust="spacingAndGlyphs" fill="#262626" font-family="Liberation Sans" font-weight="normal">True Positive Rate</text>
<text x="459.44" y="230.50" font-size="15.86" textLength="153.03" lengthAdjust="spacingAndGlyphs" fill="#262626" font-family="Liberation Sans" font-weight="normal">False Positive Rate</text>
<polyline points="65.6,289.2 97.0,290.8 128.4,293.0 159.8,296.4 191.2,299.1 222.7,303.0 254.1,307.4 285.5,317.3 316.9,332.2" fill="none" stroke="#4c72b0" stroke-width="1.5" stroke-linejoin="round"/>
<path d="M62.57,286.16L68.57,292.16M62.57,292.16L68.57,286.16" stroke="#4c72b0" stroke-width="1.2" fill="none"/>
<path d="M93.99,287.85L99.99,293.85M93.99,293.85L99.99,287.85" stroke="#4c72b0" stroke-width="1.2" fill="none"/>
<path d="M125.41,290.04L131.41,296.04M125.41,296.04L131.41,290.04" stroke="#4c72b0" stroke-width="1.2" fill="none"/>
<path d="M156.83,293.41L162.83,299.41M156.83,299.41L162.83,293.41" stroke="#4c72b0" stroke-width="1.2" fill="none"/>
<path d="M188.25,296.11L194.25,302.11M188.25,302.11L194.25,296.11" stroke="#4c72b0" stroke-width="1.2" fill="none"/>
<path d="M219.67,299.99L225.67,305.99M219.67,305.99L225.67,299.99" stroke="#4c72b0" stroke-width="1.2" fill="none"/>
<path d="M251.09,304.37L257.09,310.37M251.09,310.37L257.09,304.37" stroke="#4c72b0" stroke-width="1.2" fill="none"/>
<path d="M282.51,314.32L288.51,320.32M282.51,320.32L288.51,314.32" stroke="#4c72b0" stroke-width="1.2" fill="none"/>
<path d="M313.93,329.15L319.93,335.15M313.93,335.15L319.93,329.15" stroke="#4c72b0" stroke-width="1.2" fill="none"/>
<path d="M52.50,286.80H329.50V455.40H52.50" fill="none" stroke="#262626" stroke-width="1.5" stroke-opacity="0.7"/>
<line x1="53.1" y1="286.10" x2="53.1" y2="306.6" stroke="#262626" stroke-width="1.6" stroke-opacity="0.62"/>
<line x1="52.2" y1="306.6" x2="52.2" y2="349" stroke="#262626" stroke-width="1.1" stroke-opacity="0.9"/>
<line x1="52.9" y1="349" x2="52.9" y2="456.10" stroke="#262626" stroke-width="1.6" stroke-opacity="0.62"/>
<text x="22.44" y="459.90" font-size="14.35" textLength="20.86" lengthAdjust="spacingAndGlyphs" fill="#262626" font-family="Liberation Sans" font-weight="normal">0.0</text>
<text x="22.45" y="426.18" font-size="14.35" textLength="20.54" lengthAdjust="spacingAndGlyphs" fill="#262626" font-family="Liberation Sans" font-weight="normal">0.2</text>
<text x="22.44" y="392.46" font-size="14.35" textLength="20.84" lengthAdjust="spacingAndGlyphs" fill="#262626" font-family="Liberation Sans" font-weight="normal">0.4</text>
<text x="22.43" y="358.74" font-size="14.35" textLength="20.98" lengthAdjust="spacingAndGlyphs" fill="#262626" font-family="Liberation Sans" font-weight="normal">0.6</text>
<text x="22.44" y="325.02" font-size="14.35" textLength="20.89" lengthAdjust="spacingAndGlyphs" fill="#262626" font-family="Liberation Sans" font-weight="normal">0.8</text>
<text x="22.48" y="291.30" font-size="14.35" textLength="20.81" lengthAdjust="spacingAndGlyphs" fill="#262626" font-family="Liberation Sans" font-weight="normal">1.0</text>
<text x="86.57" y="474.10" font-size="14.35" textLength="20.54" lengthAdjust="spacingAndGlyphs" fill="#262626" font-family="Liberation Sans" font-weight="normal">0.2</text>
<text x="149.40" y="474.10" font-size="14.35" textLength="20.84" lengthAdjust="spacingAndGlyphs" fill="#262626" font-family="Liberation Sans" font-weight="normal">0.4</text>
<text x="212.24" y="474.10" font-size="14.35" textLength="20.98" lengthAdjust="spacingAndGlyphs" fill="#262626" font-family="Liberation Sans" font-weight="normal">0.6</text>
<text x="275.08" y="474.10" font-size="14.35" textLength="20.89" lengthAdjust="spacingAndGlyphs" fill="#262626" font-family="Liberation Sans" font-weight="normal">0.8</text>
<text x="153.01" y="493.59" font-size="16.40" textLength="75.63" lengthAdjust="spacingAndGlyphs" fill="#262626" font-family="Liberation Sans" font-weight="normal">sensitivity</text>
<text transform="translate(14.80,409.38) rotate(-90)" x="0" y="0" font-size="13.93" textLength="74.73" lengthAdjust="spacingAndGlyphs" fill="#262626" font-family="Liberation Sans" font-weight="normal">specificity</text>
<text x="61.03" y="329.36" font-size="24.26" textLength="17.30" lengthAdjust="spacingAndGlyphs" fill="#000" font-family="Liberation Serif" font-weight="bold">C</text>
<rect x="418.50" y="270.79" width="48.40" height="186.01" fill="#4c72b0"/>
<rect x="466.90" y="318.50" width="48.40" height="138.30" fill="#c44e52"/>
<line x1="466.90" y1="270.79" x2="466.90" y2="456.80" stroke="#fff" stroke-width="0.8"/>
<rect x="566.20" y="268.25" width="48.40" height="188.55" fill="#4c72b0"/>
<rect x="614.60" y="328.18" width="48.40" height="128.62" fill="#c44e52"/>
<line x1="614.60" y1="268.25" x2="614.60" y2="456.80" stroke="#fff" stroke-width="0.8"/>
<line x1="442.5" y1="267.5" x2="442.5" y2="272.5" stroke="#262626" stroke-width="1.6"/>
<line x1="491.6" y1="314.0" x2="491.6" y2="322.7" stroke="#262626" stroke-width="1.6"/>
<line x1="590.2" y1="265.4" x2="590.2" y2="270.8" stroke="#262626" stroke-width="1.6"/>
<line x1="638.7" y1="318.4" x2="638.7" y2="336.3" stroke="#262626" stroke-width="1.6"/>
<rect x="411.3" y="415.0" width="177.3" height="35.5" rx="3" ry="3" fill="#fff" fill-opacity="0.8" stroke="#cccccc" stroke-opacity="0.8" stroke-width="1"/>
<rect x="417.0" y="420.7" width="22.2" height="7.1" fill="#4c72b0"/>
<rect x="417.0" y="436.9" width="22.2" height="7.1" fill="#c44e52"/>
<text x="448.44" y="428.30" font-size="12.69" textLength="131.71" lengthAdjust="spacingAndGlyphs" fill="#262626" font-family="Liberation Sans" font-weight="normal">Low Entropy Subgroup</text>
<text x="448.43" y="444.50" font-size="12.69" textLength="136.03" lengthAdjust="spacingAndGlyphs" fill="#262626" font-family="Liberation Sans" font-weight="normal">High Entropy Subgroup</text>
<rect x="405.60" y="255.70" width="270.10" height="201.10" fill="none" stroke="#262626" stroke-width="1.5" stroke-opacity="0.7"/>
<text x="379.29" y="461.40" font-size="12.76" textLength="18.54" lengthAdjust="spacingAndGlyphs" fill="#262626" font-family="Liberation Sans" font-weight="normal">0.0</text>
<text x="379.30" y="415.30" font-size="12.76" textLength="18.26" lengthAdjust="spacingAndGlyphs" fill="#262626" font-family="Liberation Sans" font-weight="normal">0.2</text>
<text x="379.29" y="369.20" font-size="12.76" textLength="18.52" lengthAdjust="spacingAndGlyphs" fill="#262626" font-family="Liberation Sans" font-weight="normal">0.4</text>
<text x="379.28" y="323.10" font-size="12.76" textLength="18.65" lengthAdjust="spacingAndGlyphs" fill="#262626" font-family="Liberation Sans" font-weight="normal">0.6</text>
<text x="379.29" y="277.00" font-size="12.76" textLength="18.57" lengthAdjust="spacingAndGlyphs" fill="#262626" font-family="Liberation Sans" font-weight="normal">0.8</text>
<text x="430.15" y="471.90" font-size="10.27" textLength="73.72" lengthAdjust="spacingAndGlyphs" fill="#262626" font-family="Liberation Sans" font-weight="normal">75th Percentile</text>
<text x="577.38" y="472.00" font-size="10.27" textLength="73.10" lengthAdjust="spacingAndGlyphs" fill="#262626" font-family="Liberation Sans" font-weight="normal">90% Percentile</text>
<text transform="translate(373.90,379.42) rotate(-90)" x="0" y="0" font-size="13.61" textLength="43.69" lengthAdjust="spacingAndGlyphs" fill="#262626" font-family="Liberation Sans" font-weight="normal">AUROC</text>
<text x="424.41" y="312.15" font-size="22.83" textLength="16.51" lengthAdjust="spacingAndGlyphs" fill="#000" font-family="Liberation Serif" font-weight="bold">D</text>
<rect x="62.4" y="631.7" width="54.60" height="145.90" fill="#4c72b0"/>
<rect x="173.2" y="612.8" width="54.70" height="164.80" fill="#4c72b0"/>
<rect x="283.9" y="594.1" width="54.70" height="183.50" fill="#4c72b0"/>
<line x1="89.5" y1="614.1" x2="89.5" y2="646.7" stroke="#262626" stroke-width="1.9"/>
<line x1="200.4" y1="595.7" x2="200.4" y2="628.6" stroke="#262626" stroke-width="1.9"/>
<line x1="311.0" y1="576.0" x2="311.0" y2="610.7" stroke="#262626" stroke-width="1.9"/>
<rect x="47.50" y="550.30" width="305.50" height="227.30" fill="none" stroke="#262626" stroke-width="1.5" stroke-opacity="0.85"/>
<text x="23.13" y="782.60" font-size="13.39" textLength="15.58" lengthAdjust="spacingAndGlyphs" fill="#262626" font-family="Liberation Sans" font-weight="normal">60</text>
<text x="23.15" y="737.14" font-size="13.39" textLength="15.34" lengthAdjust="spacingAndGlyphs" fill="#262626" font-family="Liberation Sans" font-weight="normal">65</text>
<text x="23.29" y="691.68" font-size="13.39" textLength="15.41" lengthAdjust="spacingAndGlyphs" fill="#262626" font-family="Liberation Sans" font-weight="normal">70</text>
<text x="23.30" y="646.22" font-size="13.35" textLength="15.17" lengthAdjust="spacingAndGlyphs" fill="#262626" font-family="Liberation Sans" font-weight="normal">75</text>
<text x="23.23" y="600.76" font-size="13.39" textLength="15.48" lengthAdjust="spacingAndGlyphs" fill="#262626" font-family="Liberation Sans" font-weight="normal">80</text>
<text x="23.23" y="555.30" font-size="13.39" textLength="15.24" lengthAdjust="spacingAndGlyphs" fill="#262626" font-family="Liberation Sans" font-weight="normal">85</text>
<text x="82.25" y="794.60" font-size="11.53" textLength="13.35" lengthAdjust="spacingAndGlyphs" fill="#262626" font-family="Liberation Sans" font-weight="normal">All</text>
<text x="168.06" y="794.60" font-size="11.53" textLength="60.78" lengthAdjust="spacingAndGlyphs" fill="#262626" font-family="Liberation Sans" font-weight="normal">Below 90%</text>
<text x="178.80" y="808.00" font-size="11.66" textLength="42.36" lengthAdjust="spacingAndGlyphs" fill="#262626" font-family="Liberation Sans" font-weight="normal">Entropy</text>
<text x="278.96" y="794.60" font-size="11.53" textLength="60.78" lengthAdjust="spacingAndGlyphs" fill="#262626" font-family="Liberation Sans" font-weight="normal">Below 75%</text>
<text x="289.80" y="808.00" font-size="11.66" textLength="42.36" lengthAdjust="spacingAndGlyphs" fill="#262626" font-family="Liberation Sans" font-weight="normal">Entropy</text>
<text x="65.77" y="545.82" font-size="12.86" textLength="267.45" lengthAdjust="spacingAndGlyphs" fill="#262626" font-family="Liberation Sans" font-weight="normal">Multiple Catheterization Performance</text>
<text transform="translate(15.40,697.53) rotate(-90)" x="0" y="0" font-size="13.95" textLength="63.47" lengthAdjust="spacingAndGlyphs" fill="#262626" font-family="Liberation Sans" font-weight="normal">Accuracy</text>
<text x="79.13" y="585.50" font-size="23.51" textLength="14.59" lengthAdjust="spacingAndGlyphs" fill="#000" font-family="Liberation Serif" font-weight="bold">E</text>
</g>
</svg></body></html>
